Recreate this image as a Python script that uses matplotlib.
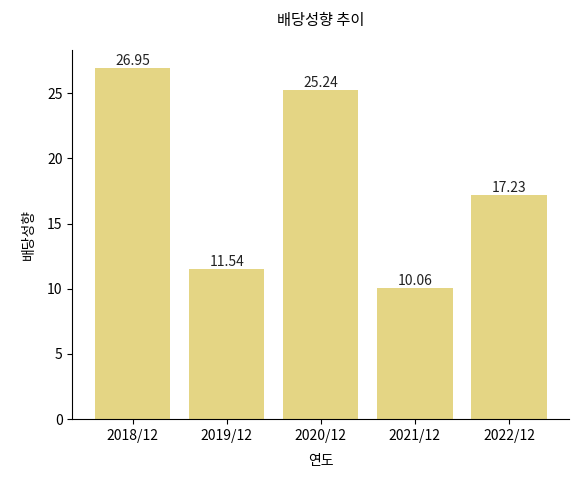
import matplotlib
matplotlib.use("Agg")
import matplotlib.pyplot as plt

plt.rcParams['font.family'] = ['Noto Sans CJK KR', 'DejaVu Sans']

years = ["2018/12", "2019/12", "2020/12", "2021/12", "2022/12"]
payout = [26.95, 11.54, 25.24, 10.06, 17.23]

fig, ax = plt.subplots(figsize=(5.78, 4.79), dpi=100)
bars = ax.bar(years, payout, color="#e4d584", width=0.8)
for b, v in zip(bars, payout):
    ax.text(b.get_x() + b.get_width() / 2, v, f"{v:.2f}", ha="center", va="bottom", fontsize=10, color="#222222")

ax.set_title("배당성향 추이", fontsize=11, pad=18)
ax.set_xlabel("연도", fontsize=10, labelpad=8)
ax.set_ylabel("배당성향", fontsize=10, labelpad=8)
ax.spines["top"].set_visible(False)
ax.spines["right"].set_visible(False)
ax.tick_params(labelsize=10)
ax.set_yticks([0, 5, 10, 15, 20, 25])

plt.subplots_adjust(left=0.125, right=0.985, top=0.895, bottom=0.125)
plt.savefig("out.png", dpi=100)
